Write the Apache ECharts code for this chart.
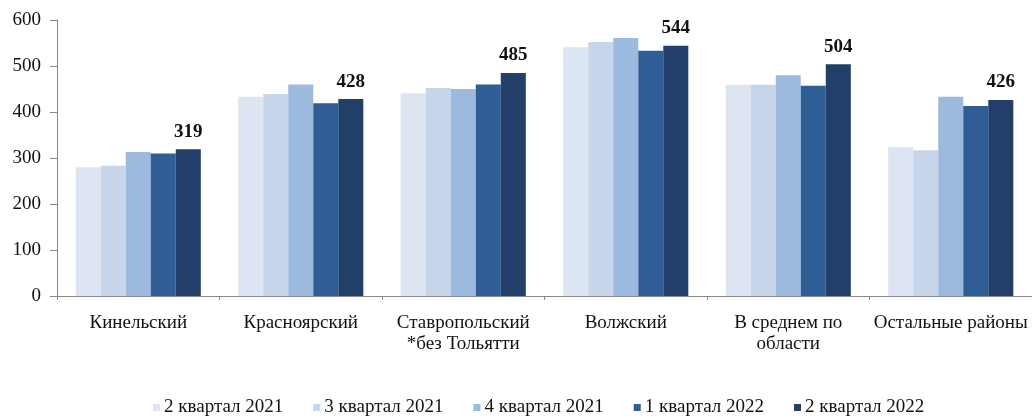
<!DOCTYPE html>
<html>
<head>
<meta charset="utf-8">
<script src="https://cdn.jsdelivr.net/npm/echarts@6/dist/echarts.min.js"></script>
<style>html,body{margin:0;padding:0;background:#fff;}#c{width:1032px;height:416px;}</style>
</head>
<body>
<div id="c"></div>
<script>
const categories = ['Кинельский', 'Красноярский', 'Ставропольский\n*без Тольятти', 'Волжский', 'В среднем по\nобласти', 'Остальные районы'];
const seriesNames = ['2 квартал 2021', '3 квартал 2021', '4 квартал 2021', '1 квартал 2022', '2 квартал 2022'];
const q2_2021 = [280, 433, 441, 541, 459, 324];
const q3_2021 = [283, 439, 452, 552, 459, 317];
const q4_2021 = [313, 460, 450, 561, 480, 433];
const q1_2022 = [310, 419, 460, 533, 457, 413];
const q2_2022 = [319, 428, 485, 544, 504, 426];
const yTicks = [0, 100, 200, 300, 400, 500, 600];

const seriesData = [q2_2021, q3_2021, q4_2021, q1_2022, q2_2022];
const colors = ['#dde4f2', '#c6d5e9', '#9cbadd', '#2f5e97', '#213f69'];
const font = 'Liberation Serif';

const chart = echarts.init(document.getElementById('c'));
chart.setOption({
  animation: false,
  color: colors,
  textStyle: { fontFamily: font },
  grid: { left: 57, top: 20, width: 978, height: 276, containLabel: false },
  legend: {
    data: seriesNames,
    left: 148,
    top: 393,
    itemWidth: 7,
    itemHeight: 7,
    itemGap: 30,
    icon: 'rect',
    textStyle: { fontFamily: font, fontSize: 19, color: '#111', padding: [0, 0, 0, -1] }
  },
  xAxis: {
    type: 'category',
    data: categories,
    axisLine: { lineStyle: { color: '#888' } },
    axisTick: { show: true, length: 4, alignWithLabel: false, lineStyle: { color: '#888' } },
    axisLabel: { interval: 0, fontFamily: font, fontSize: 19, color: '#111', margin: 17, lineHeight: 21 }
  },
  yAxis: {
    type: 'value',
    min: yTicks[0],
    max: yTicks[yTicks.length - 1],
    interval: 100,
    splitLine: { show: false },
    axisLine: { show: true, lineStyle: { color: '#888' } },
    axisTick: { show: true, length: 7, lineStyle: { color: '#888' } },
    axisLabel: { fontFamily: font, fontSize: 19, color: '#111', margin: 16 }
  },
  series: seriesData.map((d, i) => ({
    name: seriesNames[i],
    type: 'bar',
    data: d,
    barGap: '0%',
    barCategoryGap: '23%',
    label: i === seriesData.length - 1 ? {
      show: true,
      position: 'top',
      distance: 8,
      fontFamily: font,
      fontSize: 19,
      fontWeight: 'bold',
      color: '#111'
    } : { show: false }
  }))
});
</script>
</body>
</html>
